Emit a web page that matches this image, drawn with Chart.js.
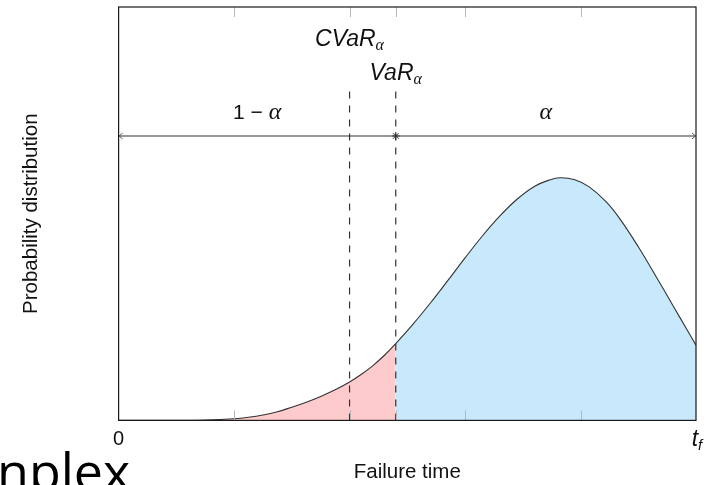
<!DOCTYPE html>
<html>
<head>
<meta charset="utf-8">
<script src="https://cdn.jsdelivr.net/npm/chart.js@4.4.0/dist/chart.umd.min.js"></script>
<style>
  html, body { margin: 0; padding: 0; background: #fff; }
  #wrap { width: 709px; height: 485px; position: relative; overflow: hidden; }
</style>
</head>
<body>
<div id="wrap"><canvas id="riskChart" width="709" height="485"></canvas></div>
<script>
// failure time as a fraction of t_f, and the density
const failureTime = [0, 0.05, 0.10, 0.15, 0.20, 0.225, 0.25, 0.275, 0.30, 0.325, 0.35, 0.375, 0.40, 0.42, 0.44, 0.46, 0.48,
                     0.51, 0.54, 0.57, 0.60, 0.63, 0.66, 0.69, 0.72, 0.745, 0.765, 0.79, 0.815, 0.845, 0.87, 0.90,
                     0.93, 0.96, 0.985, 1.0];
const density = [0, 0, 0, 0.0008, 0.004, 0.0075, 0.013, 0.021, 0.032, 0.044, 0.058, 0.074, 0.093, 0.111, 0.132, 0.157, 0.186,
                 0.233, 0.284, 0.338, 0.393, 0.446, 0.494, 0.535, 0.566, 0.581, 0.587, 0.582, 0.565, 0.528, 0.484, 0.420,
                 0.350, 0.278, 0.218, 0.182];

// risk measures on the time axis
const cvarAt = 0.40;
const varAt = 0.48;

// small inner tick marks and the two labelled ends
const tickMarks = [0.2, 0.4, 0.48, 0.6, 0.8];
const tickLabels = ['0', 't', 'f'];

const pink = '#fdcbcb';
const blue = '#c7e9fb';
const ink = '#333';

const markerTop = 0.803;  // top of the dashed lines
const rangeLevel = 0.688; // height of the double arrow

const sans = '"Liberation Sans", Arial, sans-serif';
const serif = '"Liberation Serif", "DejaVu Serif", serif';

// draws a row of text pieces centred on cx
function drawPieces(ctx, pieces, cx, base) {
    let total = 0;
    pieces.forEach(p => { ctx.font = p.font; total += ctx.measureText(p.t).width; });
    let x = cx - total / 2;
    pieces.forEach(p => {
        ctx.font = p.font;
        ctx.fillText(p.t, x, base + (p.dy || 0));
        x += ctx.measureText(p.t).width;
    });
}

const overlay = {
    id: 'overlay',
    afterDatasetsDraw(chart) {
        const { ctx, chartArea: a, scales: { x, y } } = chart;
        ctx.save();

        // inner ticks, top and bottom
        ctx.strokeStyle = '#b8b8b8';
        ctx.lineWidth = 1;
        tickMarks.forEach(v => {
            const px = Math.round(x.getPixelForValue(v)) + 0.5;
            ctx.beginPath();
            ctx.moveTo(px, a.top); ctx.lineTo(px, a.top + 10);
            ctx.moveTo(px, a.bottom); ctx.lineTo(px, a.bottom - 10);
            ctx.stroke();
        });

        // frame
        ctx.strokeStyle = '#1a1a1a';
        ctx.lineWidth = 1.2;
        ctx.strokeRect(a.left, a.top, a.right - a.left, a.bottom - a.top);

        // arrow heads
        const ya = y.getPixelForValue(rangeLevel);
        ctx.strokeStyle = '#444';
        ctx.lineWidth = 0.9;
        ctx.beginPath();
        ctx.moveTo(a.left + 4, ya - 3); ctx.lineTo(a.left + 0.5, ya); ctx.lineTo(a.left + 4, ya + 3);
        ctx.moveTo(a.right - 4, ya - 3); ctx.lineTo(a.right - 0.5, ya); ctx.lineTo(a.right - 4, ya + 3);
        ctx.stroke();

        // labels
        ctx.fillStyle = '#111';
        ctx.textBaseline = 'alphabetic';
        ctx.textAlign = 'left';
        const labelBase = y.getPixelForValue(0.729);
        drawPieces(ctx, [
            { t: '1', font: '21px ' + sans },
            { t: ' \u2212 ', font: '21px ' + sans },
            { t: '\u03b1', font: 'italic 24px ' + serif }
        ], x.getPixelForValue(varAt / 2), labelBase);
        drawPieces(ctx, [{ t: '\u03b1', font: 'italic 24px ' + serif }],
            x.getPixelForValue((varAt + 1) / 2), labelBase);

        drawPieces(ctx, [
            { t: 'CVaR', font: 'italic 23px ' + sans },
            { t: '\u03b1', font: 'italic 16px ' + serif, dy: 4 }
        ], x.getPixelForValue(cvarAt), y.getPixelForValue(0.906));
        drawPieces(ctx, [
            { t: 'VaR', font: 'italic 23px ' + sans },
            { t: '\u03b1', font: 'italic 16px ' + serif, dy: 4 }
        ], x.getPixelForValue(varAt), y.getPixelForValue(0.823));

        // t_f at the right end of the time axis
        drawPieces(ctx, [
            { t: tickLabels[1], font: 'italic 23px ' + sans },
            { t: tickLabels[2], font: 'italic 15px ' + sans, dy: 4 }
        ], x.getPixelForValue(1) + 1, 446);

        ctx.restore();
    },
    afterDraw(chart) {
        // leftover of the slide title under the figure
        const ctx = chart.ctx;
        ctx.save();
        ctx.fillStyle = '#000';
        ctx.font = '52px "Open Sans", sans-serif';
        ctx.textBaseline = 'alphabetic';
        ctx.fillText('nplex', -3, 490);
        ctx.restore();
    }
};

new Chart(document.getElementById('riskChart'), {
    type: 'line',
    data: {
        datasets: [
            {
                label: 'density',
                data: failureTime.map((t, i) => ({ x: t, y: density[i] })),
                borderColor: ink,
                borderWidth: 1.1,
                pointRadius: 0,
                fill: 'origin',
                backgroundColor: blue,
                tension: 0.4,
                segment: {
                    backgroundColor: c => (c.p1.parsed.x <= varAt ? pink : blue)
                }
            },
            {
                label: 'CVaR',
                data: [{ x: cvarAt, y: 0 }, { x: cvarAt, y: markerTop }],
                borderColor: ink,
                borderWidth: 1.2,
                borderDash: [7, 7],
                pointRadius: 0,
                fill: false
            },
            {
                label: 'VaR',
                data: [{ x: varAt, y: 0 }, { x: varAt, y: markerTop }],
                borderColor: ink,
                borderWidth: 1.2,
                borderDash: [7, 7],
                pointRadius: 0,
                fill: false
            },
            {
                label: 'range',
                data: [{ x: 0, y: rangeLevel }, { x: 1, y: rangeLevel }],
                borderColor: ink,
                borderWidth: 1.2,
                pointRadius: 0,
                fill: false
            },
            {
                label: 'VaR mark',
                data: [{ x: varAt, y: rangeLevel }],
                showLine: false,
                pointStyle: 'star',
                pointRadius: 4,
                borderColor: ink,
                borderWidth: 1
            }
        ]
    },
    options: {
        responsive: false,
        animation: false,
        devicePixelRatio: 1,
        layout: { padding: { top: 7, right: 13, bottom: 0, left: 0 } },
        plugins: {
            legend: { display: false },
            tooltip: { enabled: false },
            filler: { drawTime: 'beforeDatasetsDraw' }
        },
        scales: {
            x: {
                type: 'linear',
                min: 0,
                max: 1,
                grid: { display: false, drawTicks: false },
                border: { display: false },
                afterBuildTicks: s => { s.ticks = [0].concat(tickMarks, [1]).map(v => ({ value: v })); },
                ticks: {
                    padding: 7,
                    maxRotation: 0,
                    autoSkip: false,
                    color: '#111',
                    font: { family: sans, size: 20 },
                    callback: v => (v === 0 ? tickLabels[0] : '')
                },
                title: {
                    display: true,
                    text: 'Failure time',
                    color: '#111',
                    font: { family: sans, size: 20.5 },
                    padding: { top: 2, bottom: 0 }
                }
            },
            y: {
                type: 'linear',
                min: 0,
                max: 1,
                grid: { display: false, drawTicks: false },
                border: { display: false },
                ticks: { display: false },
                title: {
                    display: true,
                    text: 'Probability distribution',
                    color: '#111',
                    font: { family: sans, size: 20.5 },
                    padding: { top: 19, bottom: 75 }
                }
            }
        }
    },
    plugins: [overlay]
});
</script>
</body>
</html>
